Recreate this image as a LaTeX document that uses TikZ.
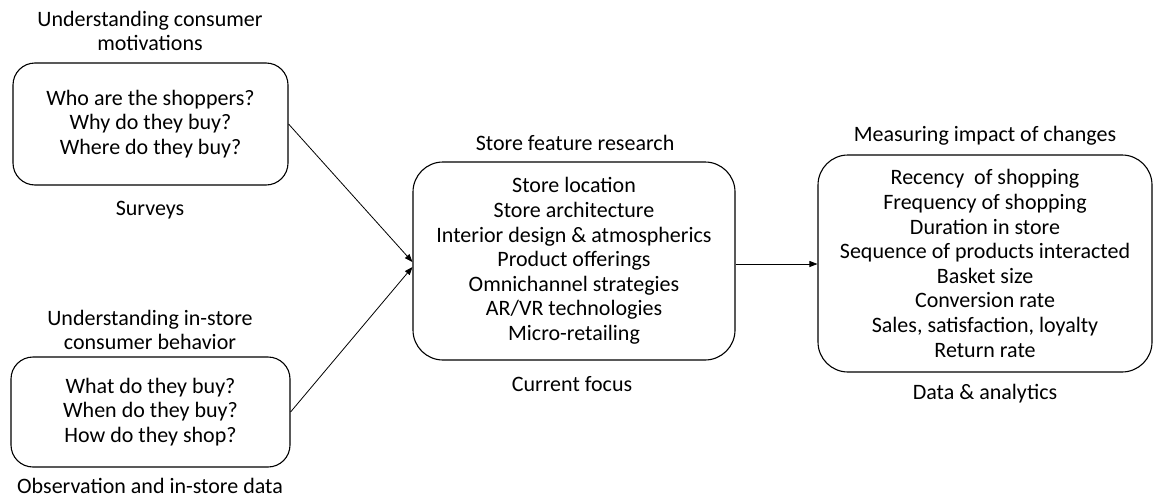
\documentclass[tikz,border=0pt]{standalone}
\usepackage{fontspec}
\setmainfont{Carlito}
\usetikzlibrary{arrows.meta}
\begin{document}
\begin{tikzpicture}[x=1pt,y=-1pt,
  txt/.style={font=\fontsize{22}{24.6}\selectfont, align=center, inner sep=0pt},
  box/.style={draw, line width=1.1pt, rounded corners=22pt, inner sep=0pt, txt},
  arr/.style={line width=0.8pt, -{Triangle[length=8pt,width=6pt]}}]
\useasboundingbox (0,0) rectangle (1155,498);
% boxes
\node[box, minimum width=275pt, minimum height=122pt] (A) at (150.5,124)
  {Who are the shoppers?\\Why do they buy?\\Where do they buy?};
\node[box, minimum width=279pt, minimum height=110pt] (B) at (150.5,412)
  {What do they buy?\\When do they buy?\\How do they shop?};
\node[box, rounded corners=30pt, minimum width=322pt, minimum height=198pt] (C) at (574,261)
  {Store location\\Store architecture\\Interior design \& atmospherics\\Product offerings\\Omnichannel strategies\\AR/VR technologies\\Micro-retailing};
\node[box, rounded corners=30pt, minimum width=334pt, minimum height=217pt] (D) at (985,263.5)
  {Recency\ \ of shopping\\Frequency of shopping\\Duration in store\\Sequence of products interacted\\Basket size\\Conversion rate\\Sales, satisfaction, loyalty\\Return rate};
% labels
\node[txt] (At) at (150,31) {Understanding consumer\\motivations};
\node[txt] (Ab) at (150,210) {Surveys};
\node[txt] (Bt) at (150,330) {Understanding in-store\\consumer behavior};
\node[txt] (Bb) at (150,486) {Observation and in-store data};
\node[txt] (Ct) at (575,143) {Store feature research};
\node[txt] (Cb) at (572,384) {Current focus};
\node[txt] (Dt) at (985,136) {Measuring impact of changes};
\node[txt] (Db) at (985,394) {Data \& analytics};
% connectors
\draw[arr] (A.east) -- ([yshift=-1pt]C.west);
\draw[arr] (B.east) -- ([yshift=-6pt]C.west);
\draw[arr] ([yshift=-3pt]C.east) -- ([yshift=-3pt]C.east -| D.west);
\end{tikzpicture}
\end{document}
